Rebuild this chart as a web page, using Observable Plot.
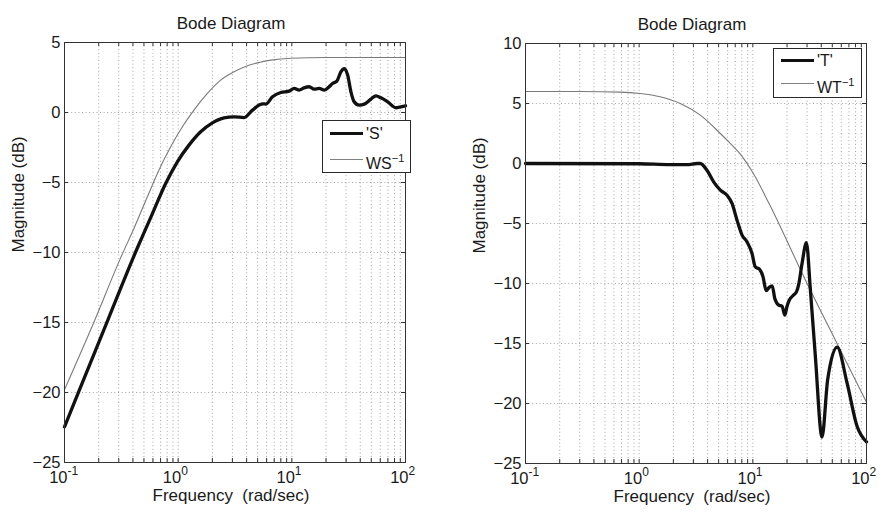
<!DOCTYPE html>
<html>
<head>
<meta charset="utf-8">
<script src="https://cdn.jsdelivr.net/npm/d3@7"></script>
<script src="https://cdn.jsdelivr.net/npm/@observablehq/plot@0.6"></script>
<style>
  body { margin: 0; background: #fff; }
  #fig { position: relative; width: 881px; height: 517px; overflow: hidden; background: #fff;
         font-family: "Liberation Sans", Arial, Helvetica, sans-serif; color: #1a1a1a; }
  .panel { position: absolute; top: 0; }
  .legend { position: absolute; background: #fff; border: 1px solid #2a2a2a; box-sizing: border-box; }
  .legend .swatch { position: absolute; left: 7px; width: 33px; }
  .legend .thick { border-top: 3.4px solid #111; }
  .legend .thin { border-top: 1px solid #808080; }
  .legend .lbl { position: absolute; left: 43px; font-size: 16px; line-height: 16px; white-space: nowrap; }
  .legend sup { font-size: 11px; position: relative; top: -1px; }
</style>
</head>
<body>
<div id="fig"></div>
<script>
// Sensitivity plot: S and the inverse weight WS^-1
const sFreq = [0.1, 0.134, 0.244, 0.447, 0.50, 0.612, 0.776, 0.984, 1.245, 1.578, 2.0, 2.535, 3.10, 3.80, 4.51, 5.15, 5.6, 5.9, 6.76, 8.0, 9.46,
  10.5, 11.6, 12.8, 14.2, 15.7, 17.4, 19.3, 21.3, 22.8, 24.9, 27.0, 28.9, 31.0, 33.1, 35.4, 39.2, 43.4, 49.7, 55.0, 60.8, 69.7, 82.4, 91.2, 100];
const sMag = [-22.45, -19.9, -14.7, -9.5, -8.6, -6.97, -5.07, -3.52, -2.33, -1.38, -0.74, -0.38, -0.31, -0.36, 0.17, 0.53, 0.62, 0.6, 1.12, 1.43, 1.53,
  1.72, 1.6, 1.76, 1.84, 1.67, 1.72, 1.6, 1.84, 2.07, 2.24, 2.9, 3.14, 2.67, 1.48, 0.76, 0.53, 0.6, 0.96, 1.19, 1.05, 0.76, 0.34, 0.41, 0.48];
const wsFreq = [0.1, 0.181, 0.311, 0.408, 0.536, 0.678, 0.859, 1.089, 1.377, 1.807, 2.366, 3.105, 4.074, 5.152, 6.53, 9.8, 20, 100];
const wsMag = [-19.8, -15, -10.4, -8.29, -6.02, -4.11, -2.45, -1.02, 0.17, 1.36, 2.31, 2.91, 3.34, 3.57, 3.74, 3.88, 3.93, 3.93];

// Complementary sensitivity plot: T and the inverse weight WT^-1
const tFreq = [0.1, 1.0, 1.88, 2.64, 3.23, 3.45, 3.95, 4.52, 5.18, 5.93, 6.56, 7.26, 8.04, 8.89, 9.84, 10.5, 11.5, 12.3, 13.1, 14.0,
  14.8, 15.6, 16.9, 18.1, 19.1, 20.0, 20.9, 22.6, 24.2, 25.3, 27.1, 29.6, 32.1, 35.5, 40.6, 45.5, 55.1, 67.5, 82.6, 100];
const tMag = [0, -0.02, -0.1, -0.1, 0, 0, -0.56, -1.53, -2.22, -2.64, -3.33, -4.72, -5.97, -6.53, -7.5, -8.6, -8.83, -9.45, -10.6, -10.3,
  -10.2, -11.25, -11.8, -11.9, -12.64, -11.9, -11.4, -11.0, -10.7, -10.1, -8.33, -6.6, -10.55, -16.1, -22.8, -18.05, -15.3, -18.3, -21.9, -23.2];
const wtFreq = [0.1, 0.3, 0.68, 1.02, 1.53, 2.30, 3.45, 5.18, 6.3, 7.73, 10.2, 14.0, 30, 55.1, 100];
const wtMag = [6.0, 6.0, 5.95, 5.83, 5.56, 5.0, 4.03, 2.5, 1.7, 0.8, -0.9, -3.4, -10, -15, -19.9];

// Axis ticks
const xMajor = [0.1, 1, 10, 100];
const xExponent = ["-1", "0", "1", "2"];
const xMinor = [2, 3, 4, 5, 6, 7, 8, 9].flatMap(k => [k * 0.1, k, k * 10]);
const yTicksS = [-25, -20, -15, -10, -5, 0, 5];
const yTicksT = [-25, -20, -15, -10, -5, 0, 5, 10];

const zip = (f, m) => f.map((w, i) => ({w, db: m[i]}));
const minus = d => (d < 0 ? "\u2212" + (-d) : String(d));

function bode({width, marginLeft, marginRight, marginTop, marginBottom, yDomain, yTicks, main, weight}) {
  const height = 517;
  const innerW = width - marginLeft - marginRight;
  const innerH = height - marginTop - marginBottom;
  const grid = {stroke: "#8c8c8c", strokeWidth: 0.8, strokeDasharray: "1,2.6"};
  const tick = {stroke: "#333", strokeWidth: 1};
  const allX = xMajor.concat(xMinor);
  const ink = "#1a1a1a";
  return Plot.plot({
    width, height, marginLeft, marginRight, marginTop, marginBottom,
    style: {fontFamily: "Liberation Sans, Arial, Helvetica, sans-serif", fontSize: "16.5px", background: "white", color: ink, overflow: "visible"},
    x: {type: "log", domain: [0.1, 100], axis: null},
    y: {domain: yDomain, ticks: yTicks, tickSize: 0, tickPadding: 4, tickFormat: minus, label: null},
    marks: [
      Plot.ruleX(allX, {x: d => d, ...grid}),
      Plot.ruleY(yTicks, {y: d => d, ...grid}),
      Plot.tickX(allX, {x: d => d, insetTop: innerH - 4, ...tick}),
      Plot.tickX(allX, {x: d => d, insetBottom: innerH - 4, ...tick}),
      Plot.tickY(yTicks, {y: d => d, insetRight: innerW - 4, ...tick}),
      Plot.tickY(yTicks, {y: d => d, insetLeft: innerW - 4, ...tick}),
      Plot.line(weight, {x: "w", y: "db", curve: "monotone-x", stroke: "#7a7a7a", strokeWidth: 1.1}),
      Plot.line(main, {x: "w", y: "db", curve: "monotone-x", stroke: "#111", strokeWidth: 3.3, strokeLinejoin: "round"}),
      Plot.frame({stroke: "#333", strokeWidth: 1}),
      Plot.text(xMajor, {x: d => d, frameAnchor: "bottom", text: () => "10", textAnchor: "end", dx: 3, dy: 20, fontSize: 16.5, fill: ink}),
      Plot.text(xMajor, {x: d => d, frameAnchor: "bottom", text: (d, i) => xExponent[i], textAnchor: "start", dx: 3, dy: 12, fontSize: 12, fill: ink}),
      Plot.text(["Bode Diagram"], {frameAnchor: "top", dx: -4, dy: -26, fontSize: 17, fill: ink}),
      Plot.text(["Frequency\u00a0 (rad/sec)"], {frameAnchor: "bottom", dx: -4, dy: 38, fontSize: 17, fill: ink}),
      Plot.text(["Magnitude (dB)"], {frameAnchor: "left", dx: -46, rotate: -90, fontSize: 17, fill: ink})
    ]
  });
}

function legend(box, rows) {
  const el = document.createElement("div");
  el.className = "legend";
  Object.assign(el.style, {left: box.left + "px", top: box.top + "px", width: box.width + "px", height: box.height + "px"});
  rows.forEach(r => {
    const sw = document.createElement("div");
    sw.className = "swatch " + r.kind;
    sw.style.top = (r.y - (r.kind === "thick" ? 1.7 : 0.5)) + "px";
    const lb = document.createElement("div");
    lb.className = "lbl";
    lb.style.top = (r.y - 8) + "px";
    lb.innerHTML = r.html;
    el.append(sw, lb);
  });
  return el;
}

const fig = document.getElementById("fig");

const left = bode({width: 440, marginLeft: 64, marginRight: 35, marginTop: 42, marginBottom: 55,
  yDomain: [-25, 5], yTicks: yTicksS, main: zip(sFreq, sMag), weight: zip(wsFreq, wsMag)});
left.classList.add("panel");
left.style.left = "0px";
fig.append(left);

const right = bode({width: 441, marginLeft: 85, marginRight: 15, marginTop: 43, marginBottom: 54,
  yDomain: [-25, 10], yTicks: yTicksT, main: zip(tFreq, tMag), weight: zip(wtFreq, wtMag)});
right.classList.add("panel");
right.style.left = "440px";
fig.append(right);

fig.append(legend({left: 322, top: 120, width: 89, height: 53}, [
  {kind: "thick", y: 13, html: "'S'"},
  {kind: "thin", y: 38, html: "WS<sup>\u22121</sup>"}
]));
fig.append(legend({left: 773, top: 48, width: 89, height: 50}, [
  {kind: "thick", y: 12, html: "'T'"},
  {kind: "thin", y: 34, html: "WT<sup>\u22121</sup>"}
]));
</script>
</body>
</html>
